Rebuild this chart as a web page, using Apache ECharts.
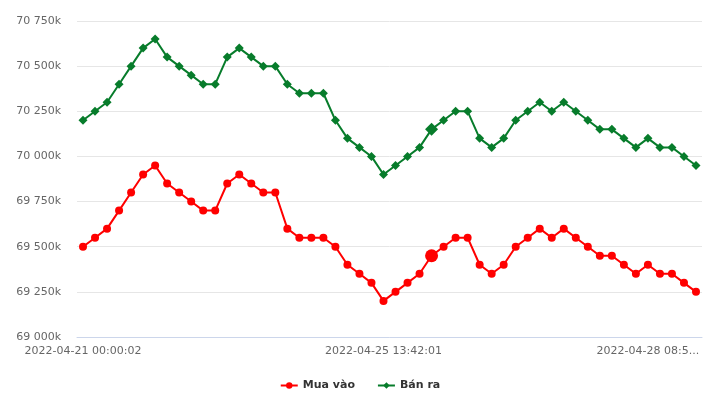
<!DOCTYPE html>
<html>
<head>
<meta charset="utf-8">
<script src="https://cdn.jsdelivr.net/npm/echarts@6/dist/echarts.min.js"></script>
<style>html,body{margin:0;padding:0;background:#fff}#c{width:720px;height:409px}</style>
</head>
<body>
<div id="c"></div>
<script>
// Prices in thousands (axis shows e.g. "69 500k")
const buyPrices = [69500,69550,69600,69700,69800,69900,69950,69850,69800,69750,69700,69700,69850,69900,69850,69800,69800,69600,69550,69550,69550,69500,69400,69350,69300,69200,69250,69300,69350,69450,69500,69550,69550,69400,69350,69400,69500,69550,69600,69550,69600,69550,69500,69450,69450,69400,69350,69400,69350,69350,69300,69250];
const sellPrices = [70200,70250,70300,70400,70500,70600,70650,70550,70500,70450,70400,70400,70550,70600,70550,70500,70500,70400,70350,70350,70350,70200,70100,70050,70000,69900,69950,70000,70050,70150,70200,70250,70250,70100,70050,70100,70200,70250,70300,70250,70300,70250,70200,70150,70150,70100,70050,70100,70050,70050,70000,69950];
const seriesNames = ['Mua vào', 'Bán ra'];
const xTickLabels = ['2022-04-21 00:00:02', '2022-04-25 13:42:01', '2022-04-28 08:5...'];
const xTickIndex = [0, 25, 47];
const yMin = 69000, yMax = 70750, yStep = 250;
const highlightIndex = 29;

const categories = buyPrices.map((_, i) => String(i));
const fmtY = v => Math.floor(v / 1000) + ' ' + String(v % 1000).padStart(3, '0') + 'k';
const mkData = (arr, big) => arr.map((v, i) => i === highlightIndex ? { value: v, symbolSize: big } : v);

const chart = echarts.init(document.getElementById('c'), null, { renderer: 'canvas' });
chart.setOption({
  animation: false,
  backgroundColor: '#fff',
  textStyle: { fontFamily: 'DejaVu Sans' },
  grid: { left: 77, right: 18, top: 21, bottom: 72, containLabel: false },
  legend: {
    bottom: 13,
    left: 'center',
    itemWidth: 17,
    itemHeight: 8,
    itemGap: 22,
    textStyle: { fontFamily: 'DejaVu Sans', fontSize: 11, color: '#333', fontWeight: 'bold' },
    data: seriesNames
  },
  xAxis: {
    type: 'category',
    data: categories,
    boundaryGap: true,
    axisLine: { lineStyle: { color: '#ccd6eb', width: 1 } },
    axisTick: { show: false },
    axisLabel: {
      interval: (i) => xTickIndex.includes(i),
      formatter: (v, i) => { const k = xTickIndex.indexOf(Number(v)); return k >= 0 ? xTickLabels[k] : ''; },
      color: '#666', fontSize: 11, margin: 9, hideOverlap: false
    },
    splitLine: { show: false }
  },
  yAxis: {
    type: 'value',
    min: yMin, max: yMax, interval: yStep,
    axisLine: { show: false },
    axisTick: { show: false },
    axisLabel: { formatter: fmtY, color: '#666', fontSize: 11, margin: 16 },
    splitLine: { lineStyle: { color: '#e6e6e6', width: 1 } }
  },
  series: [
    {
      name: seriesNames[0], type: 'line', data: mkData(buyPrices, 13),
      symbol: 'circle', symbolSize: 8, showAllSymbol: true,
      lineStyle: { color: '#ff0000', width: 2 },
      itemStyle: { color: '#ff0000' }
    },
    {
      name: seriesNames[1], type: 'line', data: mkData(sellPrices, 13),
      symbol: 'diamond', symbolSize: 9, showAllSymbol: true,
      lineStyle: { color: '#077c2b', width: 2 },
      itemStyle: { color: '#077c2b' }
    }
  ]
});
</script>
</body>
</html>
